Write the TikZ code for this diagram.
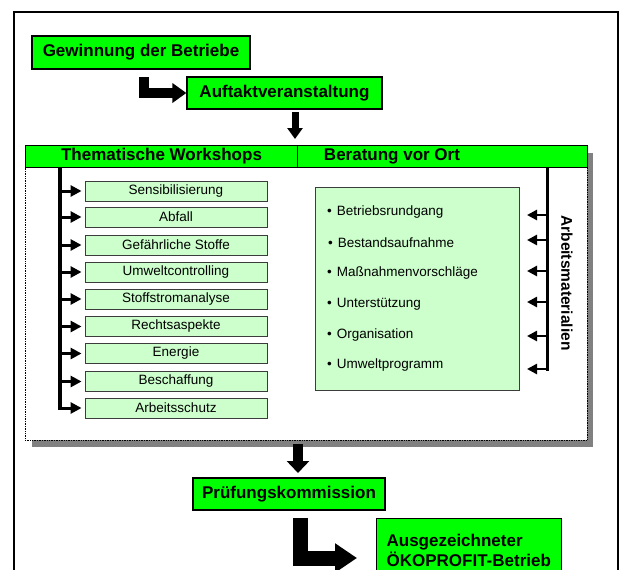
\documentclass[tikz,border=0pt]{standalone}
\usepackage{fontspec}
\setmainfont{Liberation Sans}
\usetikzlibrary{arrows.meta}
\definecolor{bgreen}{RGB}{0,255,0}
\definecolor{lgreen}{RGB}{204,255,204}
\definecolor{shgray}{RGB}{128,128,128}
\definecolor{bordgray}{RGB}{60,60,60}
\tikzset{
  bigbox/.style={draw=black, line width=1.2pt, fill=bgreen, inner sep=0pt,
    font=\fontsize{17}{20}\selectfont\bfseries},
  wsbox/.style={draw=bordgray, line width=0.9pt, fill=lgreen, inner sep=0pt,
    minimum width=182pt, minimum height=20pt, font=\fontsize{13.5}{16}\selectfont},
  bul/.style={anchor=west, inner sep=0pt, font=\fontsize{13.5}{16}\selectfont},
  smallarr/.style={line width=3pt, -{Triangle[length=11pt,width=11pt]}},
  rarr/.style={line width=2.5pt, -{Triangle[length=10pt,width=10pt]}},
}
\begin{document}
\begin{tikzpicture}[x=1pt,y=-1pt]
\useasboundingbox (0,0) rectangle (621,570);
\clip (0,0) rectangle (621,570);
% outer frame
\draw[line width=2pt] (14,600) -- (14,12) -- (618,12) -- (618,600);
% top boxes
\node[bigbox, minimum width=218pt, minimum height=33pt] (gew) at (141,52.5) {Gewinnung der Betriebe};
\node[bigbox, minimum width=195pt, minimum height=32pt] (auf) at (284.5,93) {Auftaktveranstaltung};
\coordinate (l1a) at (144,77);
\draw[line width=10pt, -{Triangle[length=14pt,width=19pt]}] (l1a) |- (auf.west);
% main panel with shadow
\fill[shgray] (32,153) rectangle (593,447);
\node[draw=black, densely dotted, line width=0.7pt, fill=white, minimum width=562pt, minimum height=295pt, inner sep=0pt] (panel) at (306,292.5) {};
\node[draw=black, line width=1pt, fill=bgreen, minimum width=562pt, minimum height=22pt, inner sep=0pt] (hdr) at (306,156) {};
\draw[line width=1pt] (297,145) -- (297,167);
\node[font=\fontsize{17}{20}\selectfont\bfseries, inner sep=0pt] (tw) at (161.5,156) {Thematische Workshops};
\node[font=\fontsize{17}{20}\selectfont\bfseries, inner sep=0pt] (bvo) at (392,156) {Beratung vor Ort};
% down arrow 1
\coordinate (d1a) at (295,112);
\coordinate (d1b) at (295,139);
\draw[line width=7pt, -{Triangle[length=11pt,width=15pt]}] (d1a) -- (d1b);
% workshops
\draw[line width=4pt] (60,167) -- (60,410);
\foreach \n/\y/\t in {w1/191/Sensibilisierung, w2/217/Abfall, w3/245/Gefährliche Stoffe, w4/272/Umweltcontrolling, w5/299/Stoffstromanalyse, w6/326.5/Rechtsaspekte, w7/353.5/Energie, w8/381.5/Beschaffung, w9/408/Arbeitsschutz}{
  \node[wsbox] (\n) at (176,\y) {\t};
  \coordinate (\n s) at (60,\y);
  \draw[smallarr, shorten >=3pt] (\n s) -- (\n.west);
}
% Beratung list
\node[draw=bordgray, line width=0.9pt, fill=lgreen, minimum width=204pt, minimum height=203pt, inner sep=0pt] (ber) at (417,288.5) {};
\node[bul] (b1) at (327,212) {•\hspace{5pt}Betriebsrundgang};
\node[bul] (b2) at (328,243) {•\hspace{5pt}Bestandsaufnahme};
\node[bul] (b3) at (327,273) {•\hspace{5pt}Maßnahmenvorschläge};
\node[bul] (b4) at (327,304) {•\hspace{5pt}Unterstützung};
\node[bul] (b5) at (327,335) {•\hspace{5pt}Organisation};
\node[bul] (b6) at (327,365) {•\hspace{5pt}Umweltprogramm};
% Arbeitsmaterialien
\draw[line width=3pt] (547,167) -- (547,371);
\foreach \n/\y in {r1/215, r2/240, r3/271, r4/302, r5/336, r6/369}{
  \coordinate (\n a) at (547,\y);
  \coordinate (\n b) at (527,\y);
  \draw[rarr] (\n a) -- (\n b);
}
\node[rotate=-90, font=\fontsize{15.5}{18}\selectfont\bfseries, inner sep=0pt] (am) at (567,283) {Arbeitsmaterialien};
% down arrow 2
\coordinate (d2a) at (298,444);
\coordinate (d2b) at (298,473);
\draw[line width=10pt, -{Triangle[length=12pt,width=22pt]}] (d2a) -- (d2b);
\node[bigbox, minimum width=192pt, minimum height=32pt] (pru) at (289,494) {Prüfungskommission};
% final box
\node[bigbox, anchor=north west, minimum width=185pt, minimum height=64pt, text width=165pt, align=left, inner xsep=10pt] (ausg) at (376,518) {Ausgezeichneter\\ÖKOPROFIT-Betrieb};
\coordinate (l2a) at (300.5,518);
\coordinate (l2b) at (357,558);
\draw[line width=15pt, -{Triangle[length=22pt,width=28pt]}] (l2a) |- (l2b);
\end{tikzpicture}
\end{document}
